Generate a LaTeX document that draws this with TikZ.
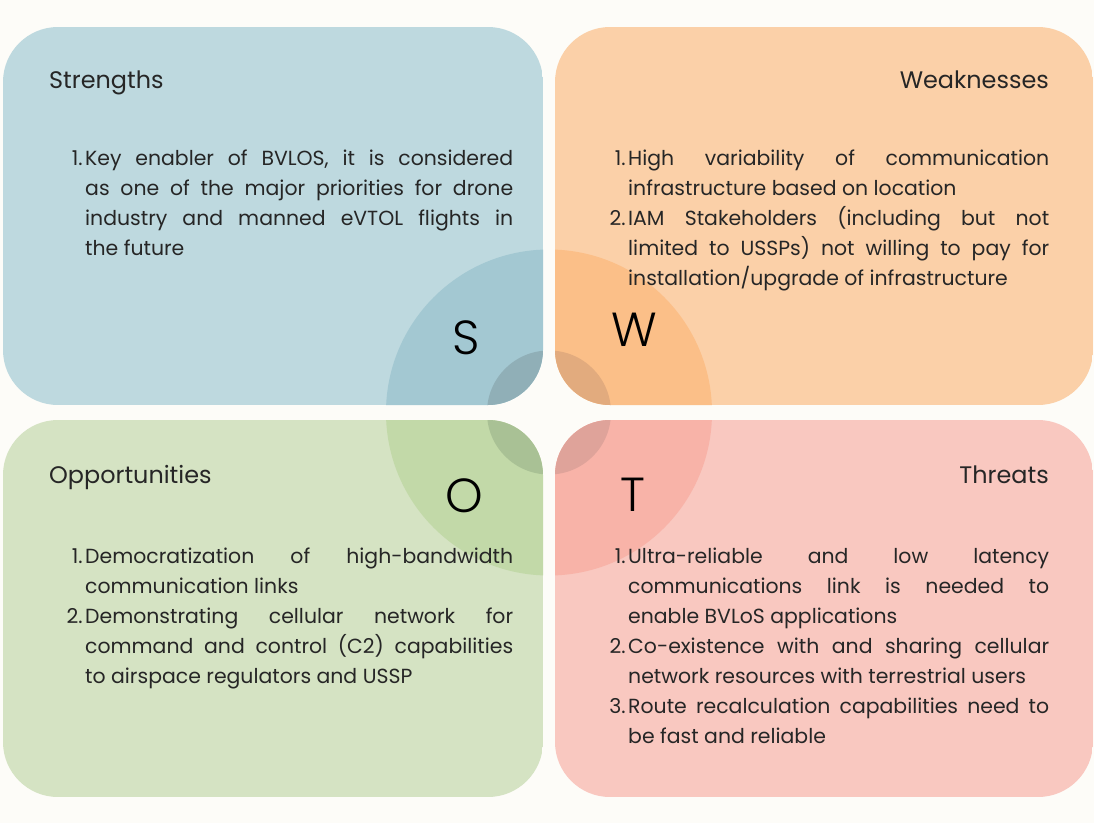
\documentclass[tikz,border=0pt]{standalone}
\usepackage{fontspec}
\setmainfont{Poppins}
\newfontfamily\letterfont{Poppins Light}

\definecolor{paper}{HTML}{FDFCF8}
\definecolor{inkc}{HTML}{262626}
% quadrant fills: box, large disc, small disc
\definecolor{sbox}{HTML}{BED9DF}
\definecolor{sbig}{HTML}{A3C8D2}
\definecolor{ssmall}{HTML}{90AFB7}
\definecolor{wbox}{HTML}{FBD0A8}
\definecolor{wbig}{HTML}{FBBF88}
\definecolor{wsmall}{HTML}{E2AB7E}
\definecolor{obox}{HTML}{D5E3C3}
\definecolor{obig}{HTML}{C2D9A8}
\definecolor{osmall}{HTML}{A9C195}
\definecolor{tbox}{HTML}{F9C8C0}
\definecolor{tbig}{HTML}{F8B3A8}
\definecolor{tsmall}{HTML}{DFA39A}

% paragraph settings for the item lists
\newcommand\listsetup{\hyphenpenalty=10000 \exhyphenpenalty=10000 \tolerance=10000 \emergencystretch=20bp\relax}
% numbered items with hanging indent; the first one opens the paragraph
\newcommand\firstitm[1]{\hangindent=17bp\hangafter=1\makebox[17bp][r]{#1\hspace{2.5bp}}\ignorespaces}
\newcommand\itm[1]{\par\noindent\firstitm{#1}}

\tikzset{
  heading/.style={inner sep=0pt, text=inkc, font=\fontsize{24}{28}\selectfont},
  bigletter/.style={inner sep=0pt, text=black, font=\letterfont\fontsize{48}{50}\selectfont},
  bodytext/.style={inner sep=0pt, text=inkc, align=justify, font=\fontsize{20.5}{30}\selectfont},
}

\newcommand\quadrant[5]{%
  \begin{scope}
    \clip[rounded corners=55bp] #1 rectangle #2;
    \fill[#3] #1 rectangle #2;
    \fill[#4] (549,412.5) circle[radius=163];
    \fill[#5] (549,412.5) circle[radius=62];
  \end{scope}}

\begin{document}
\begin{tikzpicture}[x=1bp,y=-1bp]
\fill[paper] (0,0) rectangle (1094,823);
\useasboundingbox (0,0) rectangle (1094,823);

% four rounded quadrants with the central discs clipped into them
\quadrant{(3,27)}{(543,405)}{sbox}{sbig}{ssmall}
\quadrant{(555,27)}{(1093,405)}{wbox}{wbig}{wsmall}
\quadrant{(3,420)}{(543,797)}{obox}{obig}{osmall}
\quadrant{(555,420)}{(1093,797)}{tbox}{tbig}{tsmall}

% headings
\node[heading, anchor=base west] (hs) at (49,88.7) {Strengths};
\node[heading, anchor=base east] (hw) at (1049,88.7) {Weaknesses};
\node[heading, anchor=base west] (ho) at (49,483.7) {Opportunities};
\node[heading, anchor=base east] (ht) at (1049,483.7) {Threats};

% SWOT letters
\node[bigletter] (ls) at (466,337.5) {S};
\node[bigletter] (lw) at (634,329.5) {W};
\node[bigletter] (lo) at (464,495.5) {O};
\node[bigletter] (lt) at (633,494.5) {T};

% item lists
\node[bodytext, anchor=base west, text width=445bp] (ts) at (68,165.7) {\listsetup%
\firstitm{1.}Key enabler of BVLOS, it is considered \linebreak as one of the major priorities for drone \linebreak industry and manned eVTOL flights in \linebreak the future\par};

\node[bodytext, anchor=base west, text width=438bp] (tw) at (611,165.7) {\listsetup%
\firstitm{1.}High variability of communication \linebreak infrastructure based on location
\itm{2.}IAM Stakeholders (including but not \linebreak limited to USSPs) not willing to pay for \linebreak installation/upgrade of infrastructure\par};

\node[bodytext, anchor=base west, text width=445bp] (to) at (68,563.7) {\listsetup%
\firstitm{1.}Democratization of high-bandwidth \linebreak communication links
\itm{2.}Demonstrating cellular network for \linebreak command and control (C2) capabilities \linebreak to airspace regulators and USSP\par};

\node[bodytext, anchor=base west, text width=438bp] (tt) at (611,563.7) {\listsetup%
\firstitm{1.}Ultra-reliable and low latency \linebreak communications link is needed to \linebreak enable BVLoS applications
\itm{2.}Co-existence with and sharing cellular \linebreak network resources with terrestrial users
\itm{3.}Route recalculation capabilities need to \linebreak be fast and reliable\par};
\end{tikzpicture}
\end{document}
